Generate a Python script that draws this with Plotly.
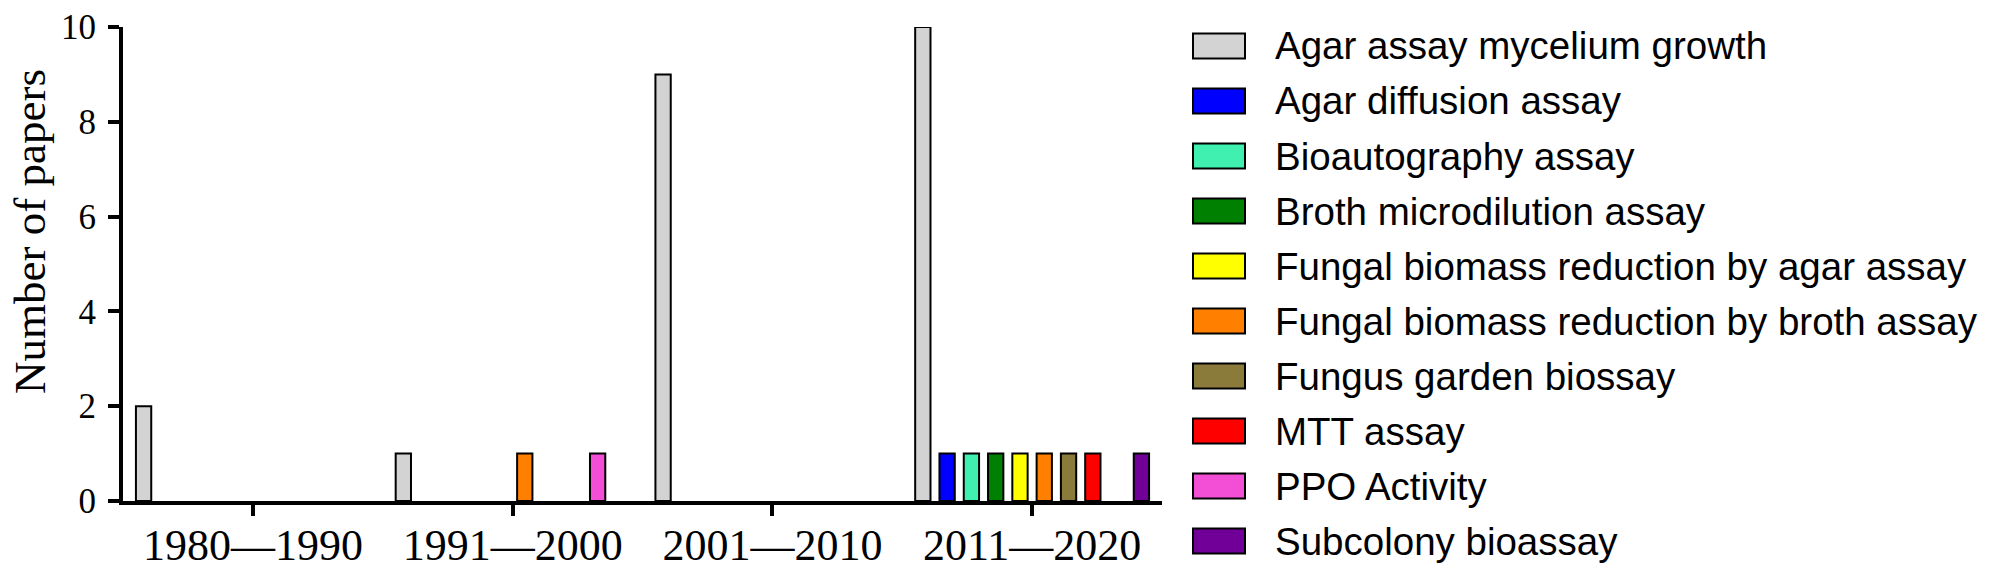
import plotly.graph_objects as go

categories = ["1980\u20141990", "1991\u20142000", "2001\u20142010", "2011\u20142020"]

series_names = [
    "Agar assay mycelium growth",
    "Agar diffusion assay",
    "Bioautography assay",
    "Broth microdilution assay",
    "Fungal biomass reduction by agar assay",
    "Fungal biomass reduction by broth assay",
    "Fungus garden biossay",
    "MTT assay",
    "PPO Activity",
    "Subcolony bioassay",
]

agar_mycelium = [2, 1, 9, 10]
agar_diffusion = [0, 0, 0, 1]
bioautography = [0, 0, 0, 1]
broth_microdilution = [0, 0, 0, 1]
biomass_agar = [0, 0, 0, 1]
biomass_broth = [0, 1, 0, 1]
fungus_garden = [0, 0, 0, 1]
mtt = [0, 0, 0, 1]
ppo = [0, 1, 0, 0]
subcolony = [0, 0, 0, 1]

series_values = [agar_mycelium, agar_diffusion, bioautography, broth_microdilution,
                 biomass_agar, biomass_broth, fungus_garden, mtt, ppo, subcolony]

colors = ["#D3D3D3", "#0000FF", "#40F0B0", "#008000", "#FFFF00",
          "#FF8000", "#8B7B3A", "#FF0000", "#F24FD6", "#700098"]

W, H = 1989, 575
L, R, T, B = 123, 1162, 27, 501  # plot area in px

fig = go.Figure()
for name, vals, col in zip(series_names, series_values, colors):
    fig.add_trace(go.Bar(
        x=categories, y=vals, name=name,
        marker=dict(color=col,
                    line=dict(color="black", width=[2 if v > 0 else 0 for v in vals])),
        showlegend=False,
    ))

pw, ph = R - L, B - T
def px_x(x):  # px -> paper
    return (x - L) / pw
def px_y(y):
    return (B - y) / ph

# legend drawn with large swatches like the original
sw_left, sw_w, sw_h, txt_left = 1193, 52, 25, 1273
row0, row_step = 46, 55
for i, (name, col) in enumerate(zip(series_names, colors)):
    cy = row0 + row_step * i
    fig.add_shape(type="rect", xref="paper", yref="paper",
                  x0=px_x(sw_left), x1=px_x(sw_left + sw_w),
                  y0=px_y(cy + sw_h / 2), y1=px_y(cy - sw_h / 2),
                  fillcolor=col, line=dict(color="black", width=2))
    fig.add_annotation(xref="paper", yref="paper", x=px_x(txt_left), y=px_y(cy),
                       xanchor="left", yanchor="middle", text=name, showarrow=False,
                       font=dict(family="Liberation Sans, Arial, sans-serif", size=38.5, color="black"))

# y-axis title
fig.add_annotation(xref="paper", yref="paper", x=px_x(30), y=px_y(232),
                   xanchor="center", yanchor="middle", textangle=-90,
                   text="Number of papers", showarrow=False, borderpad=0,
                   font=dict(family="Liberation Serif, Times New Roman, serif", size=45, color="black"))

fig.update_layout(
    width=W, height=H,
    margin=dict(l=L, r=W - R, t=T, b=H - B, pad=0),
    paper_bgcolor="white", plot_bgcolor="white",
    barmode="group", bargap=0.065, bargroupgap=0.37,
    font=dict(family="Liberation Serif, Times New Roman, serif", color="black"),
)
fig.update_yaxes(
    range=[0, 10], tickvals=[0, 2, 4, 6, 8, 10], showgrid=False, zeroline=False,
    showline=True, linecolor="black", linewidth=4, ticks="outside", ticklen=11,
    tickwidth=3.5, tickcolor="black", tickfont=dict(size=35), automargin=False,
    ticklabelstandoff=5,
)
fig.update_xaxes(
    showgrid=False, showline=True, linecolor="black", linewidth=4,
    ticks="outside", ticklen=11, tickwidth=3.5, tickcolor="black",
    tickfont=dict(size=44), automargin=False, ticklabelstandoff=-9,
)

fig.write_html("out.html", config={"displayModeBar": False},
               post_script="document.body.style.margin='0px';")
